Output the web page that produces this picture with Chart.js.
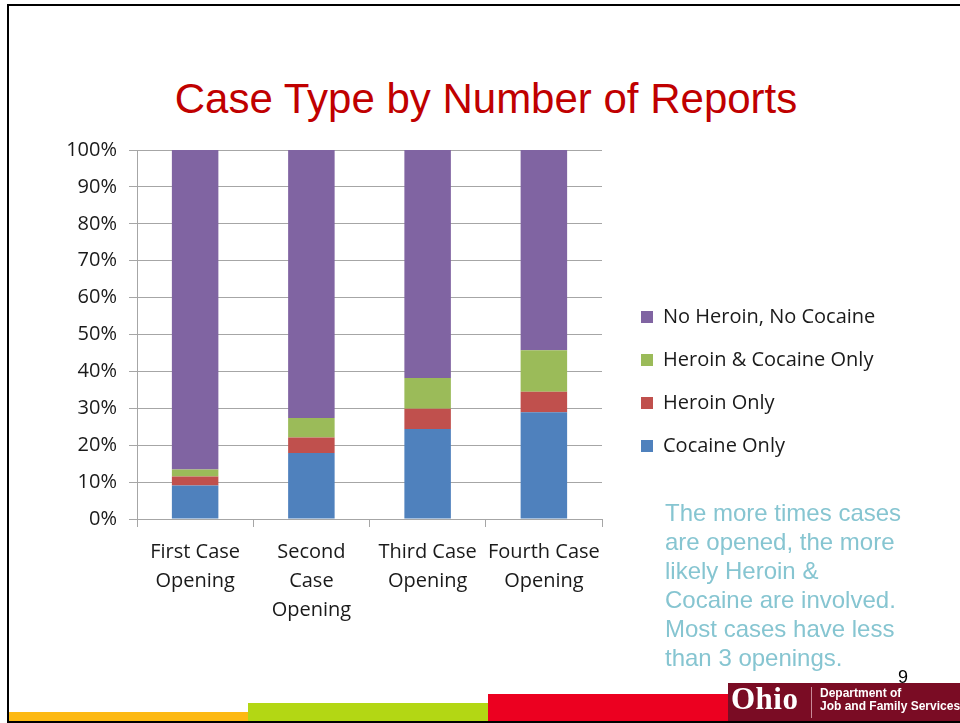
<!DOCTYPE html>
<html>
<head>
<meta charset="utf-8">
<script src="https://cdn.jsdelivr.net/npm/chart.js@4.4.1/dist/chart.umd.min.js"></script>
<style>
  html, body { margin: 0; padding: 0; background: #fff; }
  #page { position: relative; width: 960px; height: 723px; overflow: hidden; background: #fff; }
  #frame { position: absolute; left: 7px; top: 4px; width: 960px; height: 715px;
           border-left: 2px solid #000; border-top: 2px solid #000; border-bottom: 2px solid #000; }
  #chartWrap { position: absolute; left: 0; top: 0; width: 960px; height: 723px; }
  #title { position: absolute; left: 6px; top: 78px; width: 960px; text-align: center;
           font-family: "Liberation Sans", Arial, sans-serif; font-size: 42px; line-height: 42px; color: #C00000; }
  #note { position: absolute; left: 665px; top: 498px; font-family: "Liberation Sans", Arial, sans-serif;
          font-size: 24px; line-height: 29px; color: #86C5D1; white-space: nowrap; }
  #pnum { position: absolute; left: 898px; top: 668px; font-family: "Liberation Sans", Arial, sans-serif;
          font-size: 18px; line-height: 18px; color: #000; }
  .bar { position: absolute; }
  #ohio { position: absolute; left: 731px; top: 683px; font-family: "Liberation Serif", "DejaVu Serif", serif;
          font-weight: bold; font-size: 31px; line-height: 32px; color: #fff; letter-spacing: 0.5px; }
  #dept { position: absolute; left: 820px; top: 687px; font-family: "Liberation Sans", Arial, sans-serif;
          font-weight: bold; font-size: 12px; line-height: 13px; color: #fff; white-space: nowrap; }
</style>
</head>
<body>
<div id="page">
  <div id="frame"></div>
  <div id="title">Case Type by Number of Reports</div>
  <div id="chartWrap"><canvas id="c" width="960" height="723"></canvas></div>
  <div id="note">The more times cases<br>are opened, the more<br>likely Heroin &amp;<br>Cocaine are involved.<br>Most cases have less<br>than 3 openings.</div>
  <div id="pnum">9</div>
  <div class="bar" style="left:9px;top:712px;width:239px;height:9px;background:#FDB913;"></div>
  <div class="bar" style="left:248px;top:703px;width:240px;height:18px;background:#B3D714;"></div>
  <div class="bar" style="left:488px;top:694px;width:240px;height:27px;background:#EC0020;"></div>
  <div class="bar" style="left:728px;top:683px;width:232px;height:38px;background:#7A0C24;"></div>
  <div class="bar" style="left:811px;top:687px;width:1px;height:31px;background:#C98A98;"></div>
  <div id="ohio">Ohio</div>
  <div id="dept">Department of<br>Job and Family Services</div>
</div>
<script>
const categories = [["First Case", "Opening"], ["Second", "Case", "Opening"], ["Third Case", "Opening"], ["Fourth Case", "Opening"]];
const cocaineOnly = [9.1, 17.9, 24.4, 28.9];
const heroinOnly = [2.4, 4.2, 5.5, 5.6];
const heroinAndCocaine = [1.9, 5.3, 8.3, 11.2];
const noHeroinNoCocaine = [86.6, 72.6, 61.8, 54.3];
const yTicks = [0, 10, 20, 30, 40, 50, 60, 70, 80, 90, 100];

const FONT = "'Open Sans', 'DejaVu Sans', sans-serif";
const TEXT = '#1a1a1a';
const GRID = '#A6A6A6';

const legendPlace = {
  id: 'legendPlace',
  afterInit(chart) {
    const lg = chart.legend;
    if (!lg) return;
    const origFit = lg.fit.bind(lg);
    lg.fit = function () { origFit(); this.width = 358; };
  },
  afterLayout(chart) {
    const lg = chart.legend;
    if (!lg) return;
    const dx = chart.chartArea.right + 16 - lg.left;
    lg.left += dx; lg.right += dx;
    lg.top -= 5; lg.bottom -= 5;
  }
};

new Chart(document.getElementById('c'), {
  type: 'bar',
  data: {
    labels: categories,
    datasets: [
      { label: 'Cocaine Only', data: cocaineOnly, backgroundColor: '#4F81BD' },
      { label: 'Heroin Only', data: heroinOnly, backgroundColor: '#C0504D' },
      { label: 'Heroin & Cocaine Only', data: heroinAndCocaine, backgroundColor: '#9BBB59' },
      { label: 'No Heroin, No Cocaine', data: noHeroinNoCocaine, backgroundColor: '#8064A2' }
    ]
  },
  options: {
    responsive: false,
    animation: false,
    layout: { padding: { top: 150, left: 40, bottom: 100, right: 0 } },
    datasets: { bar: { categoryPercentage: 1.0, barPercentage: 0.4, borderWidth: 0 } },
    plugins: {
      title: { display: false },
      tooltip: { enabled: false },
      legend: {
        position: 'right',
        align: 'center',
        reverse: true,
        labels: {
          boxWidth: 12, boxHeight: 12, padding: 23,
          font: { family: FONT, size: 20 }, color: TEXT
        }
      }
    },
    scales: {
      x: {
        stacked: true,
        grid: { display: true, drawOnChartArea: false, color: GRID, tickLength: 8, offset: true },
        border: { color: GRID, width: 1 },
        ticks: { font: { family: FONT, size: 20, lineHeight: 1.45 }, color: TEXT, padding: 11, maxRotation: 0, autoSkip: false },
        afterFit(s) { s.height = 104; }
      },
      y: {
        stacked: true,
        min: 0, max: 100,
        afterBuildTicks(s) { s.ticks = yTicks.map(v => ({ value: v })); },
        grid: { color: GRID, tickLength: 8 },
        border: { color: GRID, width: 1 },
        ticks: { font: { family: FONT, size: 20 }, color: TEXT, padding: 12, callback: v => v + '%' },
        afterFit(s) { s.width = 97; }
      }
    }
  },
  plugins: [legendPlace]
});
</script>
</body>
</html>
